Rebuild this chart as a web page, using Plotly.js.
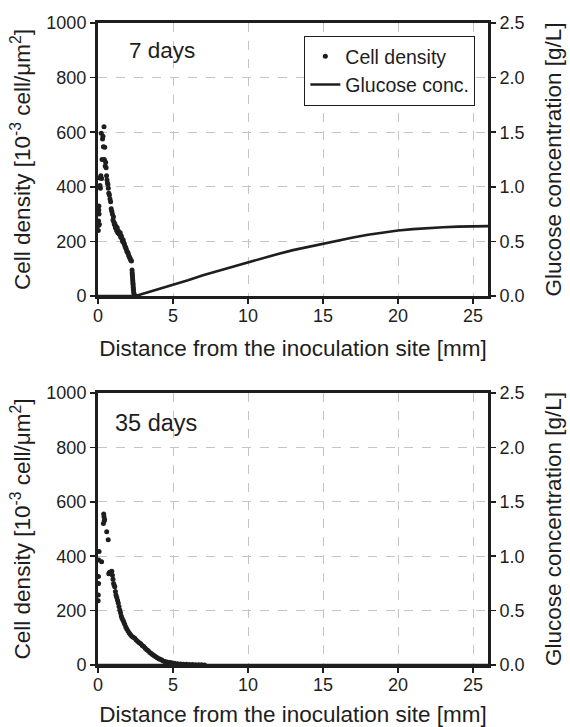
<!DOCTYPE html>
<html>
<head>
<meta charset="utf-8">
<script src="https://cdn.plot.ly/plotly-3.0.1.min.js"></script>
<style>
html,body{margin:0;padding:0;background:#fff;}
#chart{width:570px;height:727px;}
</style>
</head>
<body>
<div id="chart"></div>
<script>
// ---- Data ----
// 7 days: cell density [10^-3 cell/um^2] vs distance [mm]
const dist7 = [0.02,0.03,0.04,0.05,0.06,0.07,0.09,0.11,0.13,0.16,0.19,0.22,0.24,0.27,0.30,0.33,0.36,0.40,0.42,0.45,0.48,0.51,0.54,0.57,0.60,0.63,0.66,0.69,0.72,0.76,0.80,0.84,0.88,0.92,0.96,1.00,1.03,1.06,1.09,1.12,1.16,1.20,1.24,1.28,1.32,1.36,1.40,1.44,1.48,1.52,1.56,1.60,1.64,1.68,1.72,1.76,1.80,1.84,1.88,1.92,1.96,2.00,2.04,2.08,2.12,2.16,2.20,2.23,2.27,2.28,2.29,2.30,2.31,2.32,2.33,2.34,2.35,2.36,2.37,2.39,2.42,2.46];
const cells7 = [240,258,275,315,330,300,262,432,405,395,440,596,430,500,575,585,547,620,500,545,476,490,470,440,425,414,408,395,376,370,355,345,320,310,300,278,290,270,262,265,250,255,240,250,232,238,228,225,232,215,220,210,200,205,195,190,182,178,172,165,160,158,150,145,140,135,130,128,95,85,78,70,62,55,47,40,32,25,18,10,4,1];
// 7 days: glucose concentration [g/L]
const glucDist7 = [0,1,2,2.5,3,4,5,6,7,8,9,10,11,12,13,14,15,16,17,18,19,20,21,22,23,24,25,26];
const gluc7 = [0,0,0,0,0.02,0.06,0.10,0.145,0.19,0.23,0.27,0.31,0.35,0.385,0.42,0.45,0.48,0.51,0.535,0.56,0.58,0.60,0.612,0.622,0.63,0.635,0.638,0.64];

// 35 days: cell density
const dist35 = [0.01,0.02,0.03,0.04,0.05,0.07,0.24,0.36,0.38,0.40,0.42,0.44,0.58,0.68,0.72,0.76,0.80,0.84,0.88,0.92,0.96,1.00,1.04,1.08,1.12,1.16,1.20,1.25,1.30,1.35,1.40,1.45,1.50,1.55,1.60,1.66,1.72,1.78,1.85,1.92,2.00,2.08,2.16,2.25,2.35,2.45,2.55,2.65,2.75,2.85,2.95,3.05,3.15,3.25,3.35,3.45,3.55,3.65,3.75,3.85,3.95,4.05,4.15,4.25,4.35,4.45,4.55,4.65,4.75,4.85,4.95,5.10,5.30,5.50,5.70,5.90,6.10,6.30,6.50,6.70,6.90,7.10];
const cells35 = [236,257,325,300,386,417,380,520,555,545,530,535,490,460,335,340,338,342,335,345,330,315,300,292,288,270,257,248,238,228,215,202,192,180,172,165,158,150,140,132,125,118,112,106,102,98,92,86,82,78,72,68,62,56,52,46,42,38,34,30,27,23,21,18,15,13,11,10,9,8,7,6,5,4,3,2.5,2,1.5,1,1,0.5,0];
// 35 days: glucose concentration (depleted)
const glucDist35 = [0,26];
const gluc35 = [0,0];

const panelLabels = ['7 days','35 days'];
const xTicks = [0,5,10,15,20,25];
const yTicks = [0,200,400,600,800,1000];
const y2Ticks = [0,0.5,1.0,1.5,2.0,2.5];
const y2TickText = ['0.0','0.5','1.0','1.5','2.0','2.5'];

// ---- Styling ----
const FONT = 'Liberation Sans, Arial, Helvetica, sans-serif';
const INK = '#1e1e1e';
const GRID = '#c4c4c4';

const dotMarker = {size: 5, color: INK, symbol: 'circle'};
const traces = [
  {x: dist7, y: cells7, type: 'scatter', mode: 'markers', marker: dotMarker,
   name: 'Cell density', xaxis: 'x', yaxis: 'y', showlegend: true, cliponaxis: false},
  {x: glucDist7, y: gluc7, type: 'scatter', mode: 'lines', line: {color: INK, width: 2.6},
   name: 'Glucose conc.', xaxis: 'x', yaxis: 'y2', showlegend: true, cliponaxis: false},
  {x: dist35, y: cells35, type: 'scatter', mode: 'markers', marker: dotMarker,
   name: 'Cell density', xaxis: 'x2', yaxis: 'y3', showlegend: false, cliponaxis: false},
  {x: glucDist35, y: gluc35, type: 'scatter', mode: 'lines', line: {color: INK, width: 2.6},
   name: 'Glucose conc.', xaxis: 'x2', yaxis: 'y4', showlegend: false, cliponaxis: false}
];

const tickFont = {family: FONT, size: 18, color: INK};
const titleFont = {family: FONT, size: 22.5, color: INK};

function xAxis(anchor) {
  return {
    anchor: anchor, range: [0, 26], tickvals: xTicks, ticks: 'outside', ticklen: 5, tickwidth: 1.5,
    tickcolor: INK, showline: true, linecolor: INK, linewidth: 3, mirror: true,
    showgrid: true, gridcolor: GRID, griddash: 'dash', gridwidth: 1, zeroline: false,
    tickfont: tickFont, fixedrange: true, ticklabelstandoff: -4,
    title: {text: 'Distance from the inoculation site [mm]', font: titleFont, standoff: 16}
  };
}
function yLeft(anchor, domain) {
  return {
    anchor: anchor, domain: domain, range: [0, 1000], tickvals: yTicks, ticks: 'outside', ticklen: 5,
    tickwidth: 1.5, tickcolor: INK, showline: true, linecolor: INK, linewidth: 3,
    showgrid: true, gridcolor: GRID, griddash: 'dash', gridwidth: 1, zeroline: false,
    tickfont: tickFont, fixedrange: true,
    title: {text: 'Cell density [10<sup>-3</sup> cell/μm<sup>2</sup>]', font: titleFont, standoff: 10}
  };
}
function yRight(overlay, anchor) {
  return {
    overlaying: overlay, anchor: anchor, side: 'right', range: [0, 2.5], tickvals: y2Ticks, ticktext: y2TickText,
    ticks: 'outside', ticklen: 5, tickwidth: 1.5, tickcolor: INK, showline: true, linecolor: INK, linewidth: 3,
    showgrid: false, zeroline: false, tickfont: tickFont, fixedrange: true,
    title: {text: 'Glucose concentration [g/L]', font: titleFont, standoff: 22}
  };
}

const layout = {
  width: 570, height: 727,
  margin: {l: 98, r: 82, t: 23, b: 62},
  paper_bgcolor: '#ffffff', plot_bgcolor: '#ffffff',
  font: {family: FONT, color: INK},
  xaxis: xAxis('y'),
  xaxis2: xAxis('y3'),
  yaxis: yLeft('x', [0.5748, 1]),
  yaxis2: yRight('y', 'x'),
  yaxis3: yLeft('x2', [0, 0.4237]),
  yaxis4: yRight('y3', 'x2'),
  showlegend: true,
  legend: {
    x: 0.967, xanchor: 'right', y: 0.98, yanchor: 'top',
    bgcolor: '#ffffff', bordercolor: INK, borderwidth: 1.2,
    font: {family: FONT, size: 19.5, color: INK}, tracegroupgap: 0, itemwidth: 30
  },
  annotations: [
    {text: panelLabels[0], xref: 'x domain', yref: 'y domain', x: 0.074, y: 0.90,
     xanchor: 'left', yanchor: 'middle', showarrow: false, font: {family: FONT, size: 22.5, color: INK}},
    {text: panelLabels[1], xref: 'x2 domain', yref: 'y3 domain', x: 0.038, y: 0.89,
     xanchor: 'left', yanchor: 'middle', showarrow: false, font: {family: FONT, size: 23.5, color: INK}}
  ]
};

Plotly.newPlot('chart', traces, layout, {displayModeBar: false, staticPlot: true});
</script>
</body>
</html>
